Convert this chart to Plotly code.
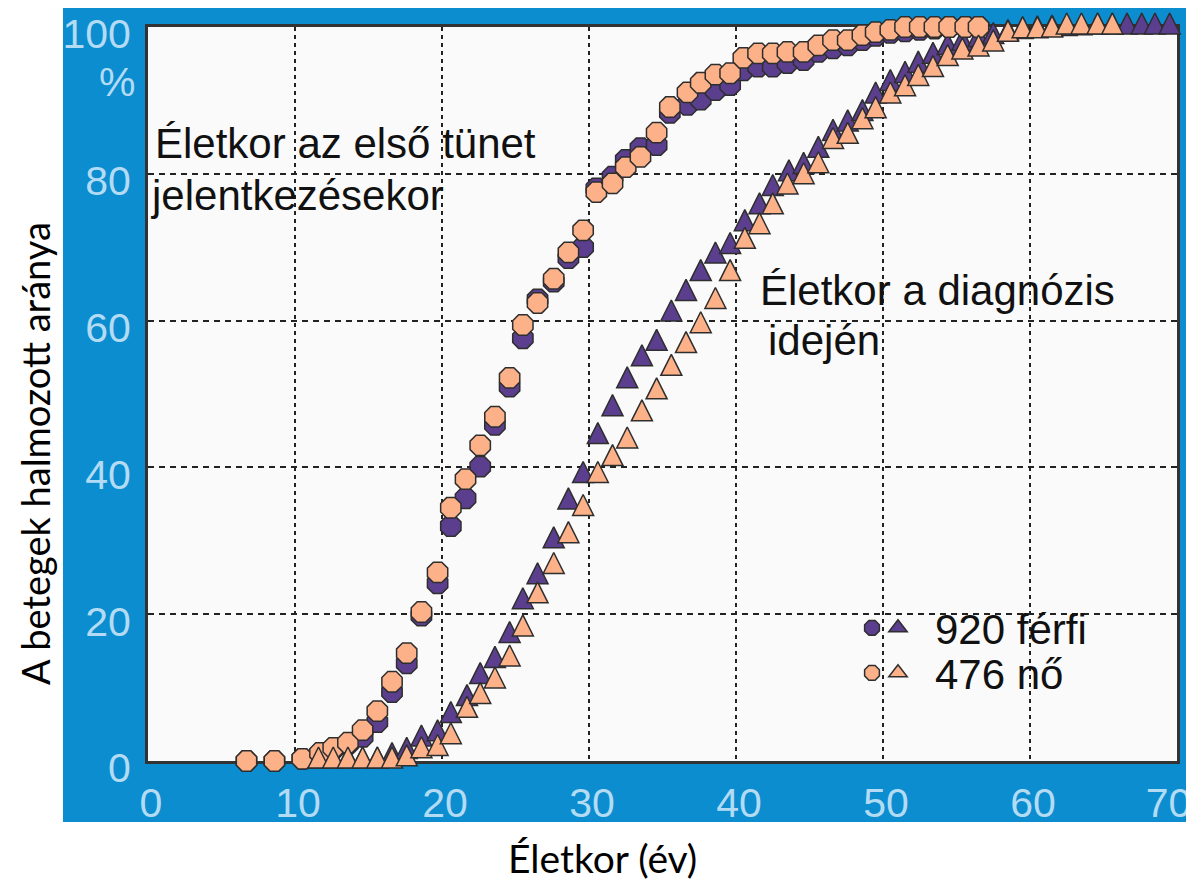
import plotly.graph_objects as go

# ---------------- data ----------------
onset_age = [6.7, 8.6, 10.5, 11.7, 12.6, 13.6, 14.6, 15.6, 16.6, 17.6, 18.6, 19.7, 20.6, 21.6, 22.6,
             23.6, 24.6, 25.5, 26.5, 27.6, 28.6, 29.6, 30.5, 31.6, 32.5, 33.5, 34.6, 35.5, 36.7, 37.6,
             38.6, 39.6, 40.5, 41.5, 42.5, 43.5, 44.6, 45.6, 46.6, 47.6, 48.6, 49.5, 50.5, 51.5, 52.5,
             53.5, 54.5, 55.6, 56.5]
onset_men = [0, 0, 0.3, 1.0, 1.6, 2.3, 3.3, 5.3, 9.4, 13.3, 19.8, 24.2, 32.0, 35.8, 40.1, 45.8, 51.0,
             57.6, 62.9, 65.3, 68.5, 70.0, 78.0, 79.6, 81.9, 83.5, 83.9, 88.3, 89.4, 90.1, 91.4, 92.1,
             94.1, 94.6, 94.6, 95.1, 95.5, 96.6, 97.1, 97.5, 98.2, 98.8, 99.2, 99.4, 99.6, 99.8, 100,
             100, 100]
onset_women = [0, 0, 0.3, 1.1, 1.8, 2.5, 4.2, 6.8, 10.8, 14.7, 20.3, 25.7, 34.5, 38.4, 43.0, 46.9,
               52.2, 59.4, 62.4, 65.7, 69.3, 72.3, 77.5, 78.7, 80.9, 82.3, 85.6, 89.1, 91.1, 92.4,
               93.5, 93.7, 95.8, 96.4, 96.4, 96.6, 96.6, 97.5, 98.2, 98.2, 98.9, 99.3, 99.6, 100,
               100, 100, 100, 100, 100]

diag_age_men = [11.6, 12.6, 13.6, 14.6, 15.6, 16.6, 17.6, 18.6, 19.7, 20.6, 21.7, 22.6, 23.6, 24.6,
                25.5, 26.5, 27.6, 28.6, 29.6, 30.6, 31.6, 32.6, 33.6, 34.6, 35.6, 36.6, 37.6, 38.6,
                39.6, 40.6, 41.6, 42.5, 43.6, 44.6, 45.6, 46.6, 47.6, 48.6, 49.5, 50.5, 51.5, 52.4,
                53.4, 54.4, 55.4, 56.5, 57.5, 58.5, 59.5, 60.5, 61.5, 62.5, 63.5, 64.6, 65.6, 66.6,
                67.6, 68.5, 69.5]
diag_men = [0, 0, 0, 0, 0, 0.6, 1.3, 3.0, 3.7, 6.2, 8.5, 11.5, 13.7, 17.1, 21.7, 25.1, 30.0, 35.3,
            38.9, 44.2, 48.0, 51.8, 54.8, 56.9, 60.9, 63.7, 66.4, 68.8, 70.1, 73.2, 75.5, 78.0, 80.0,
            81.0, 83.2, 85.5, 86.8, 88.2, 90.6, 92.3, 93.4, 94.8, 96.0, 97.2, 97.8, 98.3, 98.7, 99.1,
            99.4, 99.6, 99.7, 99.8, 99.9, 100, 100, 100, 100, 100, 100]

diag_age_women = [11.6, 12.6, 13.6, 14.6, 15.6, 16.6, 17.6, 18.6, 19.7, 20.6, 21.7, 22.6, 23.6,
                  24.6, 25.5, 26.5, 27.6, 28.6, 29.6, 30.6, 31.6, 32.6, 33.6, 34.6, 35.6, 36.6,
                  37.6, 38.6, 39.6, 40.6, 41.6, 42.5, 43.5, 44.6, 45.6, 46.6, 47.6, 48.6, 49.5,
                  50.5, 51.5, 52.4, 53.4, 54.4, 55.4, 56.5, 57.5, 58.5, 59.5, 60.5, 61.5, 62.5,
                  63.5, 64.6, 65.6]
diag_women = [0, 0, 0, 0, 0, 0, 0.3, 1.4, 1.7, 3.3, 6.9, 8.8, 10.9, 13.9, 18.0, 22.5, 26.5, 30.7,
              34.4, 38.9, 41.2, 43.6, 47.3, 50.3, 53.5, 56.6, 59.3, 62.6, 66.4, 70.8, 72.8, 75.5,
              78.2, 79.6, 81.1, 84.4, 85.1, 87.1, 88.6, 90.6, 91.6, 93.0, 94.2, 95.7, 96.6, 97.0,
              97.7, 99.0, 99.5, 99.5, 99.6, 100, 100, 100, 100]

men_label = "920 férfi"
women_label = "476 nő"
x_ticks = [0, 10, 20, 30, 40, 50, 60, 70]
y_ticks = [0, 20, 40, 60, 80, 100]

# ---------------- style ----------------
PURPLE = "#5b3f8e"
PEACH = "#fdb189"
EDGE = "#2e2e2e"
BLUE = "#0b8dcf"
TICKCOL = "#b3dcf4"
SANS = "Liberation Sans, Arial, sans-serif"
CAL = "Lato, Carlito, Calibri, sans-serif"

circ = dict(symbol="octagon", size=22, line=dict(color=EDGE, width=1.5))
tri = dict(symbol="arrow-down", angle=180, standoff=14, size=21, line=dict(color=EDGE, width=1.5))
tri_leg = dict(symbol="triangle-up", size=21, line=dict(color=EDGE, width=1.5))

fig = go.Figure()
fig.add_trace(go.Scatter(x=onset_age, y=onset_men, mode="markers", name=" ",
                         marker=dict(color=PURPLE, **circ), cliponaxis=False, legend="legend"))
fig.add_trace(go.Scatter(x=diag_age_men, y=diag_men, mode="markers", name=men_label,
                         marker=dict(color=PURPLE, **tri), cliponaxis=False, showlegend=False))
fig.add_trace(go.Scatter(x=onset_age, y=onset_women, mode="markers", name=" ",
                         marker=dict(color=PEACH, **circ), cliponaxis=False, legend="legend3"))
fig.add_trace(go.Scatter(x=diag_age_women, y=diag_women, mode="markers", name=women_label,
                         marker=dict(color=PEACH, **tri), cliponaxis=False, showlegend=False))
# legend-only entries for the triangle symbols
fig.add_trace(go.Scatter(x=[None], y=[None], mode="markers", name=men_label,
                         marker=dict(color=PURPLE, **tri_leg), legend="legend2"))
fig.add_trace(go.Scatter(x=[None], y=[None], mode="markers", name=women_label,
                         marker=dict(color=PEACH, **tri_leg), legend="legend4"))

# page body has an 8px margin: screen pixel p -> figure pixel p - 8
OFF = 8
FW, FH = 1194 - OFF, 883 - OFF
L_s, T_s, PW, PH = 148, 27, 1029, 734   # plot area in screen pixels
L, T = L_s - OFF, T_s - OFF


def px(xs):
    return (xs - L_s) / PW


def py(ys):
    return (T_s + PH - ys) / PH


leg_common = dict(bgcolor="rgba(0,0,0,0)", borderwidth=0, xanchor="left", yanchor="middle",
                  font=dict(family=SANS, size=42, color="#111"), itemsizing="trace")

TXT = dict(family=SANS, size=42, color="#111")

x_text = [str(v) for v in x_ticks]
# the last label sits left of its tick in the original (kept inside the frame)
x_text[-1] = x_text[-1] + "<span style='color:rgba(0,0,0,0)'>0</span>"
y_text = [str(v) for v in y_ticks]

fig.update_layout(
    width=FW, height=FH,
    margin=dict(l=L, r=FW - L - PW, t=T, b=FH - T - PH, autoexpand=False),
    paper_bgcolor="white",
    plot_bgcolor="#fafafa",
    showlegend=True,
    legend=dict(x=px(852), y=py(628), itemwidth=30, **leg_common),
    legend2=dict(x=px(861), y=py(628), itemwidth=64, **leg_common),
    legend3=dict(x=px(852), y=py(673), itemwidth=30, **leg_common),
    legend4=dict(x=px(861), y=py(673), itemwidth=64, **leg_common),
    shapes=[
        dict(type="rect", xref="paper", yref="paper", x0=px(63), x1=px(1200), y0=py(822), y1=py(8),
             fillcolor=BLUE, line=dict(width=0), layer="below"),
        dict(type="rect", xref="paper", yref="paper", x0=0, x1=1, y0=0, y1=1,
             fillcolor="#fafafa", line=dict(width=0), layer="below"),
    ],
    xaxis=dict(range=[0, 70], tickvals=x_ticks, ticktext=x_text,
               showgrid=True, gridcolor="#222", gridwidth=2, griddash="4px,4px",
               zeroline=False, showline=True, mirror=True, linecolor="#333", linewidth=3,
               ticks="", ticklabelstandoff=4, ticklabelshift=3, layer="below traces",
               ticklabeloverflow="allow", automargin=False,
               tickfont=dict(family=SANS, size=41, color=TICKCOL)),
    yaxis=dict(range=[0, 100], tickvals=y_ticks, ticktext=y_text,
               showgrid=True, gridcolor="#222", gridwidth=2, griddash="6px,5px",
               zeroline=False, showline=True, mirror=True, linecolor="#333", linewidth=3,
               ticks="", ticklabelstandoff=6, ticklabelshift=7, layer="below traces",
               ticklabeloverflow="allow", automargin=False,
               tickfont=dict(family=SANS, size=41, color=TICKCOL)),
    annotations=[
        dict(text="%", xref="paper", yref="paper", x=px(137), y=py(82), xanchor="right",
             yanchor="middle", showarrow=False, font=dict(family=SANS, size=41, color=TICKCOL)),
        dict(text="Életkor az első tünet", xref="paper", yref="paper", x=px(153), y=py(143),
             xanchor="left", yanchor="middle", showarrow=False, font=TXT),
        dict(text="jelentkezésekor", xref="paper", yref="paper", x=px(148), y=py(195),
             xanchor="left", yanchor="middle", showarrow=False, font=TXT),
        dict(text="Életkor a diagnózis", xref="paper", yref="paper", x=px(758), y=py(290),
             xanchor="left", yanchor="middle", showarrow=False, font=TXT),
        dict(text="idején", xref="paper", yref="paper", x=px(766), y=py(340),
             xanchor="left", yanchor="middle", showarrow=False, font=TXT),
        dict(text="A betegek halmozott aránya", xref="paper", yref="paper", x=px(35), y=py(454),
             xanchor="center", yanchor="middle", textangle=-90, showarrow=False,
             font=dict(family=CAL, size=38, color="#000")),
        dict(text="Életkor (év)", xref="paper", yref="paper", x=px(602), y=py(858),
             xanchor="center", yanchor="middle", showarrow=False,
             font=dict(family=CAL, size=39, color="#000")),
    ],
)

fig.write_html("out.html")
